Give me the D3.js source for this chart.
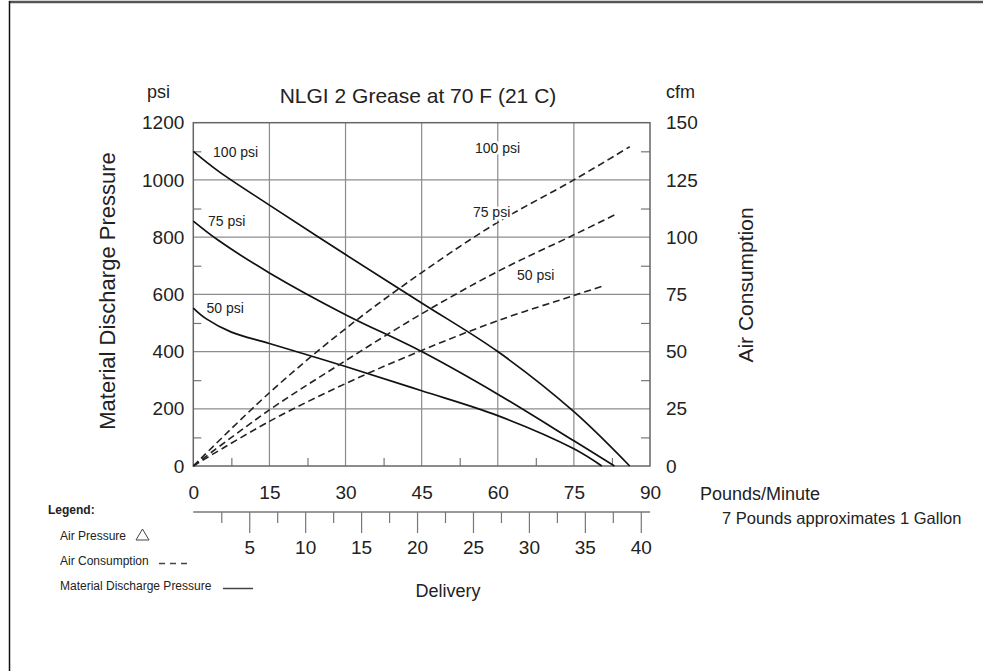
<!DOCTYPE html>
<html>
<head>
<meta charset="utf-8">
<script src="https://cdn.jsdelivr.net/npm/d3@7"></script>
<style>
  body { margin: 0; background: #fff; }
  text { font-family: "Liberation Sans", Arial, sans-serif; fill: #222; }
</style>
</head>
<body>
<div id="chart"></div>
<script>
// delivery in pounds/minute vs. material discharge pressure (psi)
const md100 = [[0, 1100], [5, 1030], [15, 912], [30, 739], [45, 570], [60, 400], [75, 190], [86, 0]];
const md75  = [[0, 856], [5, 788], [15, 675], [30, 529], [45, 400], [60, 251], [75, 88], [83, 0]];
const md50  = [[0, 552], [2.5, 515], [7.5, 468], [15, 428], [30, 348], [45, 263], [60, 176], [75, 60], [80.5, 0]];

// delivery vs. air consumption (cfm)
const ac100 = [[0, 0], [15, 32], [30, 60], [45, 84.5], [60, 106.5], [75, 125], [86, 139.5]];
const ac75  = [[0, 0], [15, 24.5], [30, 46], [45, 66.5], [60, 85], [75, 101], [83.3, 110]];
const ac50  = [[0, 0], [15, 19.5], [30, 36], [45, 50.5], [60, 63.5], [75, 74.5], [80.5, 78.5]];

// curve labels: [x (lb/min), value on own axis, text]
const mdLabels = [[3.9, 1080, "100 psi"], [2.9, 839, "75 psi"], [2.6, 535, "50 psi"]];
const acLabels = [[55.5, 136.8, "100 psi"], [55.1, 108.8, "75 psi"], [63.8, 81.3, "50 psi"]];

const lbTicks  = [0, 15, 30, 45, 60, 75, 90];
const lbMinor  = [7.5, 22.5, 37.5, 52.5, 67.5, 82.5];
const psiTicks = [0, 200, 400, 600, 800, 1000, 1200];
const psiMinor = [100, 300, 500, 700, 900, 1100];
const cfmTicks = [0, 25, 50, 75, 100, 125, 150];
const cfmMinor = [12.5, 37.5, 62.5, 87.5, 112.5, 137.5];
const kgTicks  = [5, 10, 15, 20, 25, 30, 35, 40];
const kgMinor  = [2.5, 7.5, 12.5, 17.5, 22.5, 27.5, 32.5, 37.5];

const W = 983, H = 671;
const pLeft = 193.3, pRight = 650, pTop = 122.7, pBottom = 466;

const svg = d3.select("#chart").append("svg")
    .attr("width", W).attr("height", H);

// outer frame (top and left only)
svg.append("line").attr("x1", 9).attr("x2", W).attr("y1", 2).attr("y2", 2)
    .attr("stroke", "#555").attr("stroke-width", 2.5);
svg.append("line").attr("x1", 9.5).attr("x2", 9.5).attr("y1", 1).attr("y2", H)
    .attr("stroke", "#111").attr("stroke-width", 1.5);

const x = d3.scaleLinear().domain([0, 90]).range([pLeft, pRight]);
const yL = d3.scaleLinear().domain([0, 1200]).range([pBottom, pTop]);
const yR = d3.scaleLinear().domain([0, 150]).range([pBottom, pTop]);
const xKg = d3.scaleLinear().domain([0, 90 * 0.453592]).range([pLeft, pRight]);
const fmt = d3.format("d");

// grid
const grid = svg.append("g").attr("stroke", "#8c8c8c").attr("stroke-width", 1.2);
grid.selectAll(".gx").data(lbTicks.slice(1, -1)).join("line")
    .attr("x1", d => x(d)).attr("x2", d => x(d)).attr("y1", pTop).attr("y2", pBottom);
grid.selectAll(".gy").data(psiTicks.slice(1, -1)).join("line")
    .attr("x1", pLeft).attr("x2", pRight).attr("y1", d => yL(d)).attr("y2", d => yL(d));

// inner minor ticks
function styleTicks(g) {
    g.select(".domain").remove();
    g.selectAll(".tick line").attr("stroke", "#777").attr("stroke-width", 1.2);
}
svg.append("g").attr("transform", `translate(${pLeft},0)`)
    .call(d3.axisRight(yL).tickValues(psiMinor).tickSize(8).tickFormat(""))
    .call(styleTicks);
svg.append("g").attr("transform", `translate(${pRight},0)`)
    .call(d3.axisLeft(yR).tickValues(cfmMinor).tickSize(9).tickFormat(""))
    .call(styleTicks);
svg.append("g").attr("transform", `translate(0,${pBottom})`)
    .call(d3.axisTop(x).tickValues(lbMinor).tickSize(8).tickFormat(""))
    .call(styleTicks);

// plot border
svg.append("rect").attr("x", pLeft).attr("y", pTop)
    .attr("width", pRight - pLeft).attr("height", pBottom - pTop)
    .attr("fill", "none").attr("stroke", "#666").attr("stroke-width", 1.5);

// tick labels
function labelAxis(g, size) {
    g.select(".domain").remove();
    g.selectAll(".tick line").remove();
    g.selectAll("text").attr("font-family", null).style("font-size", size + "px").attr("fill", "#222");
}
svg.append("g").attr("transform", `translate(${pLeft},0)`)
    .call(d3.axisLeft(yL).tickValues(psiTicks).tickFormat(fmt).tickSize(0).tickPadding(9))
    .call(g => labelAxis(g, 19));
svg.append("g").attr("transform", `translate(${pRight},0)`)
    .call(d3.axisRight(yR).tickValues(cfmTicks).tickFormat(fmt).tickSize(0).tickPadding(16))
    .call(g => labelAxis(g, 19));
svg.append("g").attr("transform", `translate(0,${pBottom})`)
    .call(d3.axisBottom(x).tickValues(lbTicks).tickFormat(fmt).tickSize(0).tickPadding(20))
    .call(g => labelAxis(g, 19));

// secondary delivery axis (kg/min)
const kgY = 512;
svg.append("g").attr("transform", `translate(0,${kgY})`)
    .call(d3.axisBottom(xKg).tickValues(kgMinor).tickSize(11).tickSizeOuter(0).tickFormat(""))
    .call(g => {
        g.select(".domain").attr("stroke", "#777").attr("stroke-width", 1.5)
            .attr("d", `M${pLeft},0H${pRight}`);
        g.selectAll(".tick line").attr("stroke", "#777").attr("stroke-width", 1.2);
    });
svg.append("g").attr("transform", `translate(0,${kgY})`)
    .call(d3.axisBottom(xKg).tickValues(kgTicks).tickFormat(fmt).tickSize(21).tickPadding(8))
    .call(g => {
        g.select(".domain").remove();
        g.selectAll(".tick line").attr("stroke", "#777").attr("stroke-width", 1.2);
        g.selectAll("text").attr("font-family", null).style("font-size", "19px").attr("fill", "#222");
    });

// curves
const lineL = d3.line().x(d => x(d[0])).y(d => yL(d[1])).curve(d3.curveCatmullRom.alpha(0.5));
const lineR = d3.line().x(d => x(d[0])).y(d => yR(d[1])).curve(d3.curveCatmullRom.alpha(0.5));

svg.append("g").selectAll("path").data([md100, md75, md50]).join("path")
    .attr("d", lineL).attr("fill", "none").attr("stroke", "#111").attr("stroke-width", 1.7);
svg.append("g").selectAll("path").data([ac100, ac75, ac50]).join("path")
    .attr("d", lineR).attr("fill", "none").attr("stroke", "#222").attr("stroke-width", 1.6)
    .attr("stroke-dasharray", "7,4");

svg.append("g").selectAll("text").data(mdLabels).join("text")
    .attr("x", d => x(d[0])).attr("y", d => yL(d[1]))
    .style("font-size", "14px").text(d => d[2]);
svg.append("g").selectAll("text").data(acLabels).join("text")
    .attr("x", d => x(d[0])).attr("y", d => yR(d[1]))
    .style("font-size", "14px")
    .attr("stroke", "#fff").attr("stroke-width", 5).attr("paint-order", "stroke")
    .text(d => d[2]);

// titles
svg.append("text").attr("x", 418).attr("y", 103).attr("text-anchor", "middle")
    .style("font-size", "21px").text("NLGI 2 Grease at 70 F (21 C)");
svg.append("text").attr("x", 147).attr("y", 98).style("font-size", "18px").text("psi");
svg.append("text").attr("x", 666).attr("y", 98).style("font-size", "18px").text("cfm");
svg.append("text").attr("transform", "translate(115,291) rotate(-90)").attr("text-anchor", "middle")
    .style("font-size", "22px").text("Material Discharge Pressure");
svg.append("text").attr("transform", "translate(753,285) rotate(-90)").attr("text-anchor", "middle")
    .style("font-size", "21px").text("Air Consumption");
svg.append("text").attr("x", 700).attr("y", 500).style("font-size", "18px").text("Pounds/Minute");
svg.append("text").attr("x", 722).attr("y", 524).style("font-size", "16.5px").text("7 Pounds approximates 1 Gallon");
svg.append("text").attr("x", 448).attr("y", 597).attr("text-anchor", "middle")
    .style("font-size", "18px").text("Delivery");

// legend
const lg = svg.append("g");
lg.append("text").attr("x", 48).attr("y", 514).style("font-size", "12px")
    .style("font-weight", "bold").text("Legend:");
const items = ["Air Pressure", "Air Consumption", "Material Discharge Pressure"];
lg.selectAll(".it").data(items).join("text")
    .attr("x", 60).attr("y", (d, i) => 540 + i * 25)
    .style("font-size", "12px").attr("fill", "#444").text(d => d);
lg.append("path").attr("d", "M136,540L142.5,529L149,540Z")
    .attr("fill", "none").attr("stroke", "#444").attr("stroke-width", 1);
lg.append("line").attr("x1", 159).attr("x2", 190).attr("y1", 563.5).attr("y2", 563.5)
    .attr("stroke", "#444").attr("stroke-width", 1.5).attr("stroke-dasharray", "6,5");
lg.append("line").attr("x1", 223).attr("x2", 253).attr("y1", 588.5).attr("y2", 588.5)
    .attr("stroke", "#444").attr("stroke-width", 1.5);
</script>
</body>
</html>
